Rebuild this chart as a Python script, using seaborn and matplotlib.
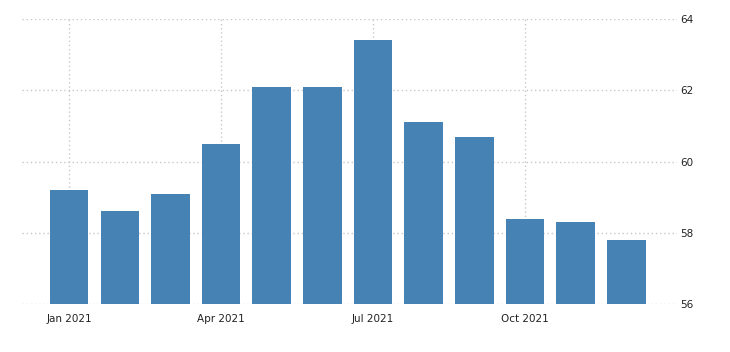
import matplotlib
matplotlib.use("Agg")
import matplotlib.pyplot as plt
import seaborn as sns
import pandas as pd

months = ["Jan 2021", "Feb 2021", "Mar 2021", "Apr 2021", "May 2021", "Jun 2021",
          "Jul 2021", "Aug 2021", "Sep 2021", "Oct 2021", "Nov 2021", "Dec 2021"]
values = [59.2, 58.6, 59.1, 60.5, 62.1, 62.1, 63.4, 61.1, 60.7, 58.4, 58.3, 57.8]
tick_labels = ["Jan 2021", "Apr 2021", "Jul 2021", "Oct 2021"]
y_ticks = [56, 58, 60, 62, 64]

df = pd.DataFrame({"month": months, "value": values})

sns.set_style("white")
plt.rcParams['font.family'] = ['DejaVu Sans']

fig = plt.figure(figsize=(7.3, 3.52), dpi=100)
ax = fig.add_axes([22/730, 1 - 304/352, (677-22)/730, (304-19)/352])

sns.barplot(data=df, x="month", y="value", color="#4682B4", saturation=1,
            width=0.76, ax=ax, zorder=2, bottom=0)
for p in ax.patches:
    p.set_edgecolor("none")

ax.set_ylim(56, 64)
ax.set_xlim(-0.93, 12.0)
ax.set_yticks(y_ticks)
ax.yaxis.tick_right()
ax.tick_params(axis="y", length=0, pad=2, labelsize=7.5, labelcolor="#222222")

pos = [months.index(t) for t in tick_labels]
ax.set_xticks(pos)
ax.set_xticklabels(tick_labels)
ax.tick_params(axis="x", length=4, color="#cccccc", width=1, pad=3,
               labelsize=7.5, labelcolor="#222222")

ax.set_xlabel("")
ax.set_ylabel("")
for s in ax.spines.values():
    s.set_visible(False)

ax.grid(True, axis="both", linestyle=(0, (1, 2)), color="#c8c8c8", linewidth=1, zorder=0)
ax.set_axisbelow(True)

fig.savefig("out.png", dpi=100)
